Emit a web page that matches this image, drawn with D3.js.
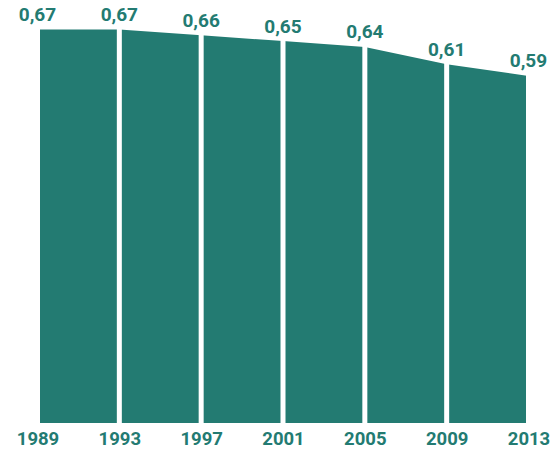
<!DOCTYPE html>
<html>
<head>
<meta charset="utf-8">
<script src="https://cdn.jsdelivr.net/npm/d3@7"></script>
<style>
  html, body { margin: 0; padding: 0; background: #fff; }
  svg { display: block; }
  text { font-family: Roboto, "Noto Sans", sans-serif; font-weight: 700; fill: #237b72; }
</style>
</head>
<body>
<svg id="chart" width="558" height="449"></svg>
<script>
const years = [1989, 1993, 1997, 2001, 2005, 2009, 2013];
const values = [0.67, 0.67, 0.66, 0.65, 0.64, 0.61, 0.59];
const valueLabels = ["0,67", "0,67", "0,66", "0,65", "0,64", "0,61", "0,59"];

const color = "#237b72";
const svg = d3.select("#chart");
const data = years.map((y, i) => ({ year: y, value: values[i], label: valueLabels[i] }));

const x = d3.scaleLinear().domain([1989, 2013]).range([37.5, 528.5]);
const y = d3.scaleLinear().domain([-0.0075, 0.67]).range([423, 29.5]);

const area = d3.area()
  .x(d => x(d.year))
  .y0(y(-0.0075))
  .y1(d => y(d.value));

svg.append("path")
  .datum(data)
  .attr("d", area)
  .attr("fill", color);

// white separators at each year
svg.selectAll("line.sep")
  .data(data)
  .join("line")
  .attr("class", "sep")
  .attr("x1", d => x(d.year))
  .attr("x2", d => x(d.year))
  .attr("y1", 0)
  .attr("y2", y(-0.0075) + 1)
  .attr("stroke", "#fff")
  .attr("stroke-width", 5);

// value labels
svg.selectAll("text.val")
  .data(data)
  .join("text")
  .attr("class", "val")
  .attr("x", d => x(d.year))
  .attr("y", d => y(d.value) - 8.5)
  .attr("text-anchor", "middle")
  .attr("font-size", 19)
  .text(d => d.label);

// year axis labels
const axis = d3.axisBottom(x).tickValues(years).tickFormat(d3.format("d")).tickSize(0).tickPadding(0);
const gAxis = svg.append("g").attr("transform", `translate(0,${y(-0.0075)})`).call(axis);
gAxis.select(".domain").remove();
gAxis.selectAll("text")
  .attr("font-size", 18.5)
  .attr("dy", null)
  .attr("y", 22)
  .attr("fill", color)
  .style("font-family", "Roboto, 'Noto Sans', sans-serif")
  .style("font-weight", 700);
</script>
</body>
</html>
